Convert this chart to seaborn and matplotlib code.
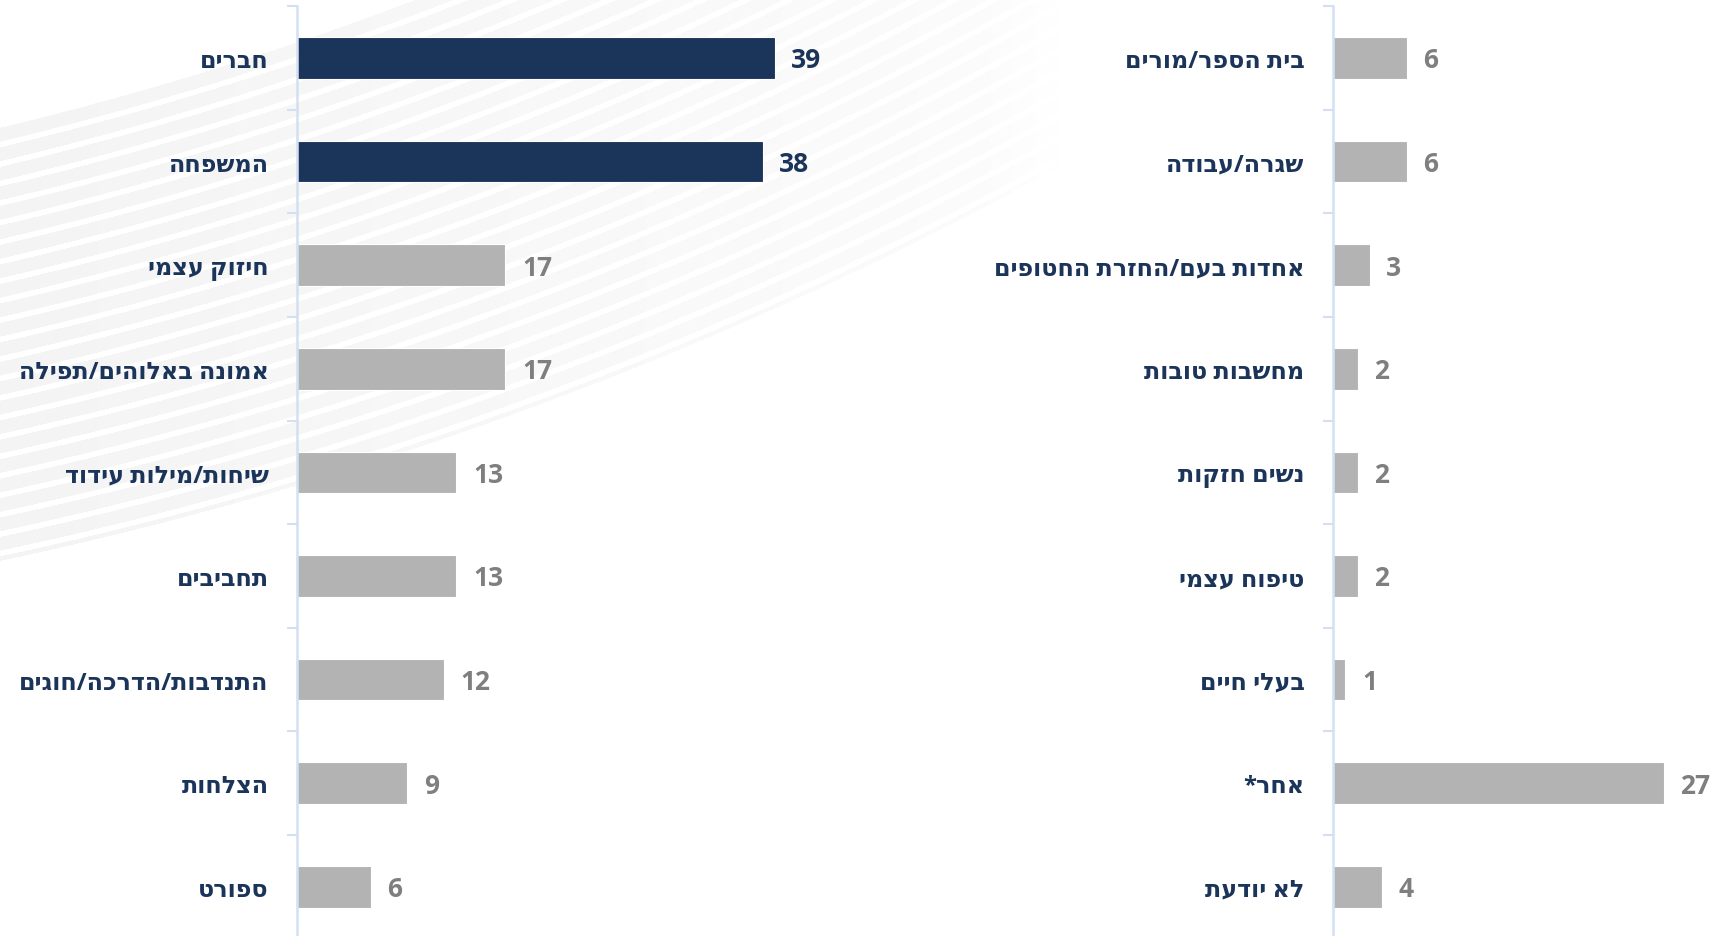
import numpy as np
import pandas as pd
import matplotlib
matplotlib.use("Agg")
import matplotlib.pyplot as plt
import seaborn as sns

# Sources of strength (percent), two columns of categories
left_labels = ["חברים", "המשפחה", "חיזוק עצמי", "אמונה באלוהים/תפילה",
               "שיחות/מילות עידוד", "תחביבים", "התנדבות/הדרכה/חוגים",
               "הצלחות", "ספורט"]
left_values = [39, 38, 17, 17, 13, 13, 12, 9, 6]

right_labels = ["בית הספר/מורים", "שגרה/עבודה", "אחדות בעם/החזרת החטופים",
                "מחשבות טובות", "נשים חזקות", "טיפוח עצמי", "בעלי חיים",
                "אחר*", "לא יודעת"]
right_values = [6, 6, 3, 2, 2, 2, 1, 27, 4]

# categories highlighted in dark blue
highlight = ["חברים", "המשפחה"]

NAVY = "#1B3459"
GRAY_BAR = "#B3B3B3"
GRAY_TXT = "#7F7F7F"
AXIS_BLUE = "#D3E0F2"

sns.set_theme(style="white")
plt.rcParams["font.family"] = ["Open Sans", "DejaVu Sans"]


def rtl(s):
    """Hebrew text is stored in logical order; matplotlib draws left to right."""
    return s[::-1]


W, H = 1711, 937
DPI = 100
fig = plt.figure(figsize=(W / DPI, H / DPI), dpi=DPI)
fig.patch.set_facecolor("white")

# Decorative curved striped band in the upper-left background
bg = fig.add_axes([0, 0, 1, 1], zorder=0)
yy, xx = np.mgrid[0:H, 0:W].astype(float)
cx, cy = -805.0, -3225.0
r = np.hypot(xx - cx, yy - cy)
r_in, r_out = 3443.0, 3871.0
band = (r >= r_in) & (r <= r_out)
stripe = ((r - r_in) % 19.0) < 5.5
strength = (0.25 + 0.75 * np.clip(1 - xx / 1100.0, 0, 1)) * np.clip((1060 - xx) / 80.0, 0, 1)
shade = np.where(band & ~stripe, 0.042 * strength, 0.0)
img = np.dstack([1 - shade] * 3)
bg.imshow(img, extent=[0, W, H, 0], aspect="auto", interpolation="bilinear")
bg.set_axis_off()

# Chart geometry (pixels)
row_h = 103.6
top_px = 7.2
n_rows = len(left_labels)
ax_h = row_h * n_rows / H
ax_bottom = 1 - top_px / H - ax_h
px_per_unit = 12.25


def draw_panel(left_px, xmax, labels, values):
    width_px = xmax * px_per_unit
    ax = fig.add_axes([left_px / W, ax_bottom, width_px / W, ax_h], zorder=2)
    ax.patch.set_alpha(0)
    shown = [rtl(s) for s in labels]
    colors = {rtl(s): (NAVY if s in highlight else GRAY_BAR) for s in labels}
    df = pd.DataFrame({"label": shown, "value": values})
    sns.barplot(data=df, x="value", y="label", hue="label", palette=colors,
                legend=False, width=0.4, saturation=1, ax=ax,
                edgecolor="white", linewidth=0.8)
    ax.set_xlim(0, xmax)
    ax.set_ylim(n_rows - 0.5, -0.5)
    ax.set_xlabel("")
    ax.set_ylabel("")
    ax.set_xticks([])
    for side in ("top", "right", "bottom"):
        ax.spines[side].set_visible(False)
    ax.spines["left"].set_color(AXIS_BLUE)
    ax.spines["left"].set_linewidth(1.8)
    ax.set_yticks(np.arange(-0.5, n_rows, 1.0), minor=True)
    ax.tick_params(axis="y", which="minor", length=7.5, width=1.5,
                   color=AXIS_BLUE, direction="out", left=True)
    ax.tick_params(axis="y", which="major", length=0, pad=20.5)
    for t in ax.get_yticklabels():
        t.set_fontsize(17.2)
        t.set_fontweight("bold")
        t.set_color(NAVY)
    for i, (s, v) in enumerate(zip(labels, values)):
        ax.annotate(str(v), xy=(v, i), xytext=(12, -6.8), textcoords="offset points",
                    ha="left", va="baseline", fontsize=19, fontweight="bold",
                    color=NAVY if s in highlight else GRAY_TXT)
    return ax


draw_panel(297, 60, left_labels, left_values)
draw_panel(1333, 30, right_labels, right_values)

fig.savefig("out.png", dpi=DPI, facecolor="white")
